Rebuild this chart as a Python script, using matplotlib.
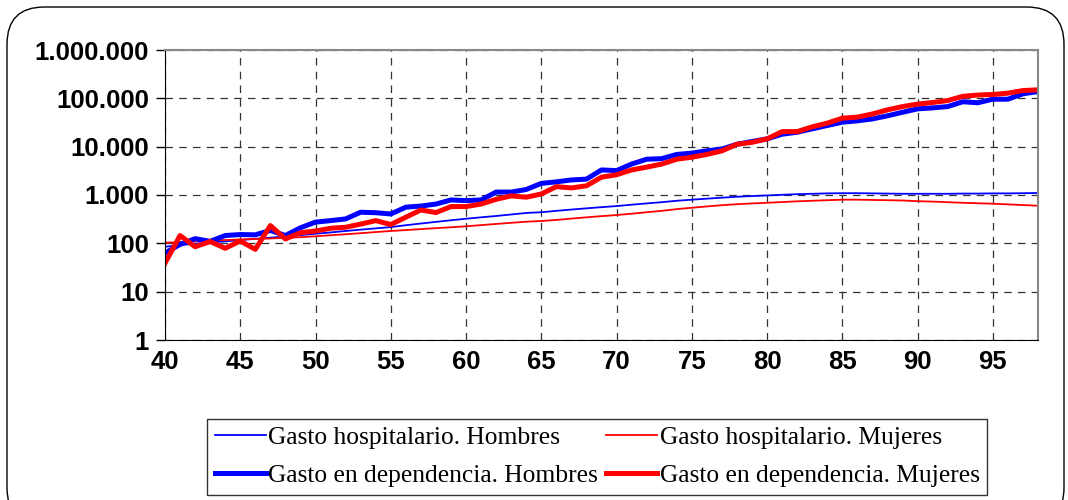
import matplotlib
matplotlib.use("Agg")

import matplotlib.pyplot as plt
import matplotlib.patches as patches
from matplotlib.ticker import FuncFormatter, FixedLocator, NullLocator


# ========= datos =========
edades = list(range(40, 99))

hosp_hombres = [
    85, 92, 98, 104, 110, 117, 124, 131, 139, 148,
    158, 168, 180, 192, 204, 217, 237, 257, 278, 300,
    323, 345, 368, 395, 425, 440, 470, 500, 530, 560,
    590, 630, 670, 710, 760, 800, 840, 880, 920, 950,
    980, 1010, 1040, 1060, 1080, 1090, 1090, 1080, 1070, 1060,
    1060, 1060, 1060, 1070, 1070, 1080, 1080, 1090, 1100,
]

hosp_mujeres = [
    103, 106, 110, 114, 117, 120, 123, 126, 130, 134,
    140, 147, 154, 162, 171, 180, 188, 197, 206, 215,
    225, 238, 252, 266, 280, 290, 305, 325, 345, 365,
    385, 410, 440, 470, 510, 545, 580, 615, 645, 670,
    690, 715, 740, 760, 780, 800, 800, 790, 780, 770,
    745, 730, 710, 690, 675, 660, 640, 620, 600,
]

dep_hombres = [
    63, 95, 125, 110, 145, 152, 150, 185, 145, 210,
    275, 295, 320, 440, 430, 405, 560, 590, 650, 790,
    765, 790, 1150, 1150, 1300, 1740, 1870, 2050, 2130, 3300,
    3200, 4370, 5500, 5650, 6900, 7350, 8200, 8950, 11200, 12800,
    14500, 18100, 19900, 23400, 27400, 32100, 34200, 37500, 43500, 51500,
    60500, 63500, 67500, 85000, 81000, 96000, 96000, 124000, 138000,
]

dep_mujeres = [
    39, 145, 85, 109, 79, 112, 75, 233, 123, 166,
    180, 205, 215, 250, 295, 245, 347, 490, 433, 576,
    576, 650, 815, 960, 900, 1050, 1490, 1400, 1550, 2340,
    2620, 3300, 3770, 4370, 5500, 6050, 6900, 8200, 11200, 12300,
    14500, 20500, 20500, 25700, 30700, 38900, 40900, 47500, 57800, 67500,
    76000, 82000, 90000, 110000, 117000, 120000, 128000, 145000, 150000,
]

etiquetas = [
    "Gasto hospitalario. Hombres",
    "Gasto en dependencia. Hombres",
    "Gasto hospitalario. Mujeres",
    "Gasto en dependencia. Mujeres",
]

AZUL = "#0000FF"
ROJO = "#FF0000"


def miles(v, pos):
    return f"{int(round(v)):,}".replace(",", ".")


fig = plt.figure(figsize=(10.68, 5.0), dpi=100)

# marco exterior redondeado (el borde inferior queda fuera de la imagen)
marco = patches.FancyBboxPatch(
    (7 / 1068, -0.05), 1057 / 1068, 1.036,
    boxstyle="round,pad=0,rounding_size=0.035",
    transform=fig.transFigure, facecolor="none",
    edgecolor="black", linewidth=1.0, mutation_aspect=1068 / 500,
)
fig.patches.append(marco)

ax = fig.add_axes([165 / 1068, 1 - 340 / 500, (1038 - 165) / 1068, 290 / 500])

l1, = ax.plot(edades, hosp_hombres, color=AZUL, lw=1.3)
l3, = ax.plot(edades, hosp_mujeres, color=ROJO, lw=1.3)
l2, = ax.plot(edades, dep_hombres, color=AZUL, lw=3.6)
l4, = ax.plot(edades, dep_mujeres, color=ROJO, lw=3.6)

ax.set_yscale("log")
ax.set_ylim(1, 1e6)
ax.set_xlim(40, 98)

ax.yaxis.set_major_locator(FixedLocator([1, 10, 100, 1e3, 1e4, 1e5, 1e6]))
ax.yaxis.set_minor_locator(NullLocator())
ax.yaxis.set_major_formatter(FuncFormatter(miles))
ax.xaxis.set_major_locator(FixedLocator(list(range(40, 99, 5))))

for lab in ax.get_xticklabels() + ax.get_yticklabels():
    lab.set_fontfamily("Liberation Sans")
    lab.set_fontweight("bold")
    lab.set_fontsize(18.5)

ax.tick_params(axis="y", length=6.5, width=1, pad=5, colors="black")
ax.tick_params(axis="x", length=0, pad=7)

ax.grid(True, which="major", color="#333333", linestyle=(0, (6, 5)), linewidth=0.9)
ax.set_axisbelow(True)

for s in ["top", "right"]:
    ax.spines[s].set_color("#888888")
    ax.spines[s].set_linewidth(1.5)
ax.spines["left"].set_color("black")
ax.spines["bottom"].set_color("black")

leg = fig.legend(
    [l1, l2, l3, l4], etiquetas, ncol=2,
    loc="lower left", bbox_to_anchor=(207 / 1068, 5 / 500),
    borderaxespad=0,
    prop={"family": "Liberation Serif", "size": 18.4},
    frameon=True, fancybox=False, edgecolor="black",
    handlelength=2.0, handletextpad=0.1, columnspacing=0.3,
    labelspacing=0.6, borderpad=0.3,
)
leg.get_frame().set_linewidth(1.0)

fig.savefig("out.png", dpi=100)
